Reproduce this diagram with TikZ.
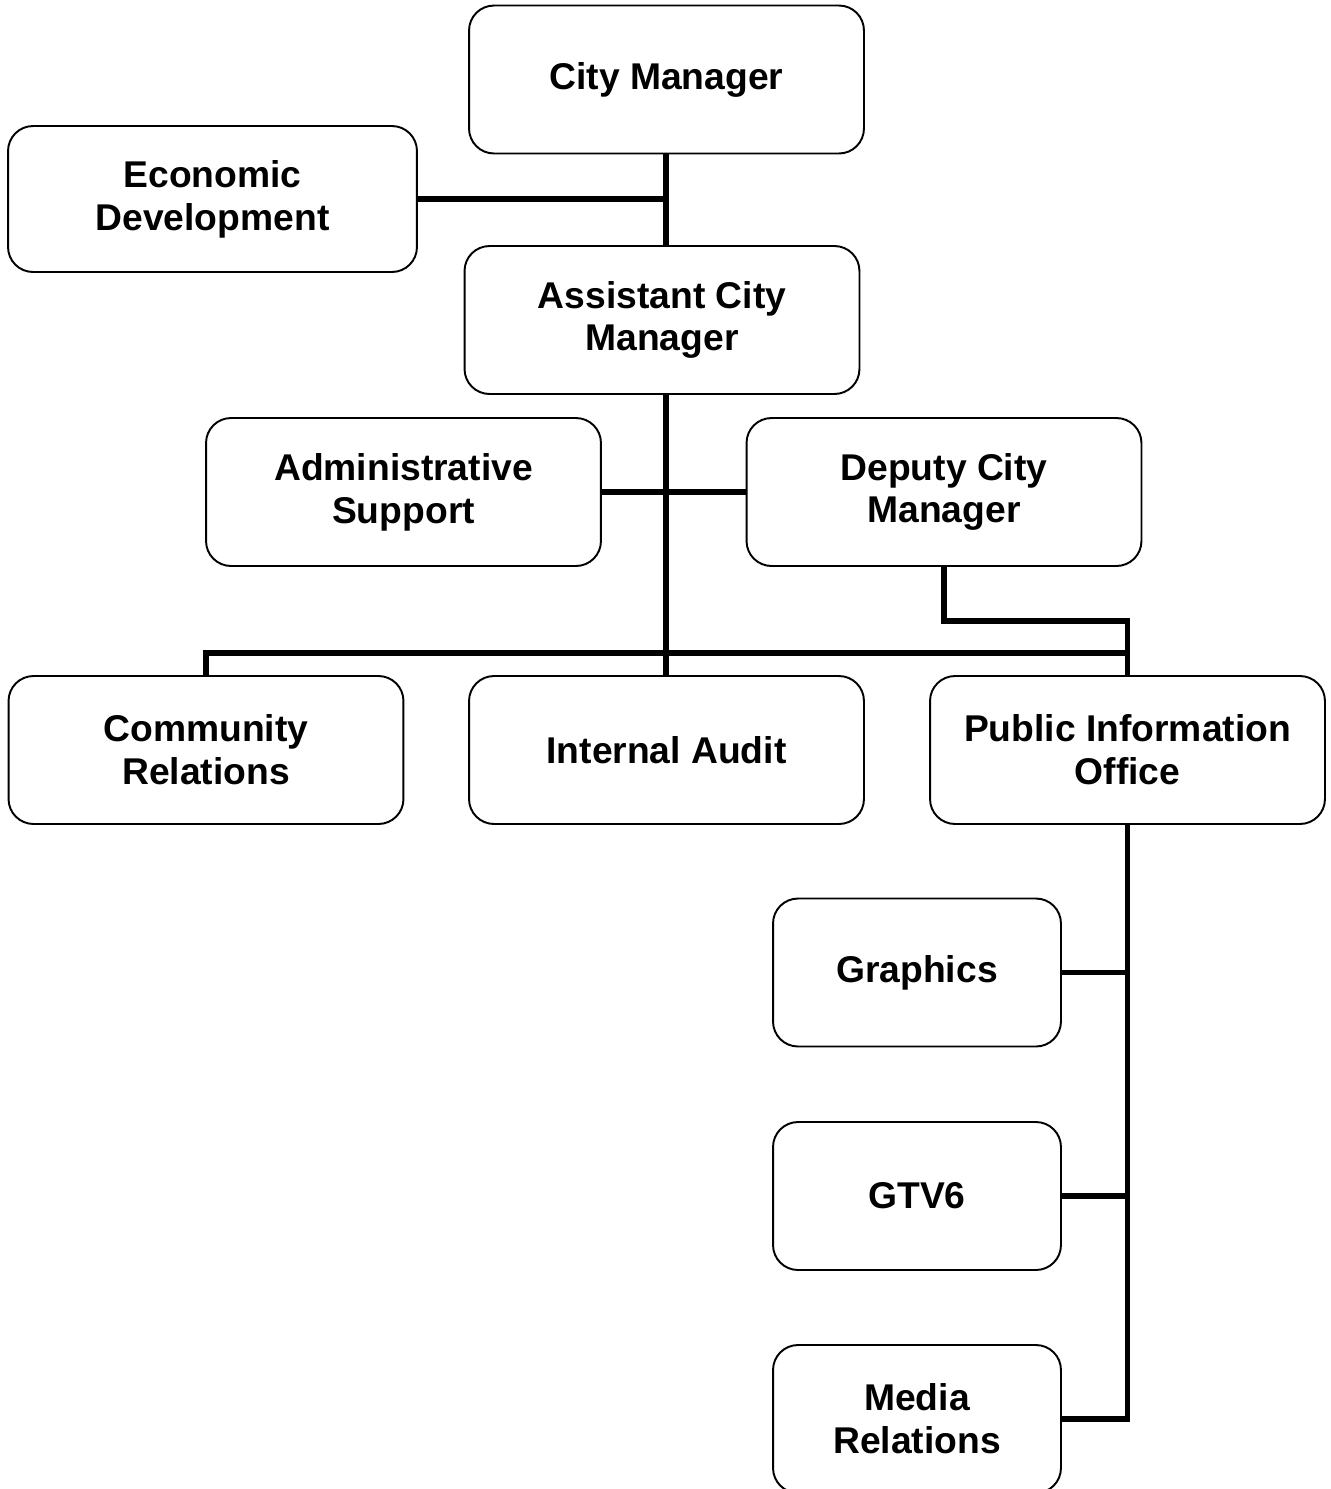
\documentclass[tikz,border=0pt]{standalone}
\usepackage{fontspec}
\setmainfont{Liberation Sans}
\usepackage{tikz}
\usetikzlibrary{positioning,calc}
\tikzset{
  orgbox/.style={draw, rounded corners=0.5cm, line width=1.1pt, minimum height=2.96cm, minimum width=7.9cm, align=center, inner sep=2pt, font=\fontsize{21.2}{24.4}\selectfont\bfseries},
  smallbox/.style={orgbox, minimum width=5.76cm},
  orgline/.style={line width=3.2pt},
}

\begin{document}
\begin{tikzpicture}[x=0.02cm, y=-0.02cm]
  \useasboundingbox (0,0) rectangle (1330,1489);
  \clip (0,0) rectangle (1330,1489);

  % Top of the chart
  \node[orgbox] (citymgr) at (666.5,79.5) {City Manager};
  \node[orgbox, minimum width=8.18cm, minimum height=2.92cm] (econdev) at (212.5,199) {Economic\\Development};
  \node[orgbox] (asstmgr) at (662,320) {Assistant City\\Manager};

  % Second level
  \node[orgbox] (adminsup) at (403.5,492) {Administrative\\Support};
  \node[orgbox] (deputymgr) at (944,492) {Deputy City\\Manager};

  % Third level
  \node[orgbox] (commrel) at (206,750) {Community\\Relations};
  \node[orgbox] (intaudit) at (666.5,750) {Internal Audit};
  \node[orgbox] (pubinfo) at (1127.5,750) {Public Information\\Office};

  % Units under the Public Information Office
  \node[smallbox] (graphics) at (917,972.5) {Graphics};
  \node[smallbox] (gtv) at (917,1196) {GTV6};
  \node[smallbox] (media) at (917,1419) {Media\\Relations};

  % Connectors
  \coordinate (bar) at (666,653);
  \coordinate (depturn) at (944,621);
  \draw[orgline] (citymgr.south -| bar) -- (asstmgr.north -| bar);
  \draw[orgline] (econdev.east) -- (econdev.east -| bar);
  \draw[orgline] (asstmgr.south -| bar) -- (intaudit.north -| bar);
  \draw[orgline] (adminsup.east) -- (deputymgr.west);
  \draw[orgline] (commrel.north) |- (bar) -| (pubinfo.north);
  \draw[orgline] (deputymgr.south) -- (depturn) -| (pubinfo.north);
  \draw[orgline] (pubinfo.south) |- (media.east);
  \foreach \unit in {graphics, gtv}
    \draw[orgline] (\unit.east) -- (\unit.east -| pubinfo.south);
\end{tikzpicture}
\end{document}
